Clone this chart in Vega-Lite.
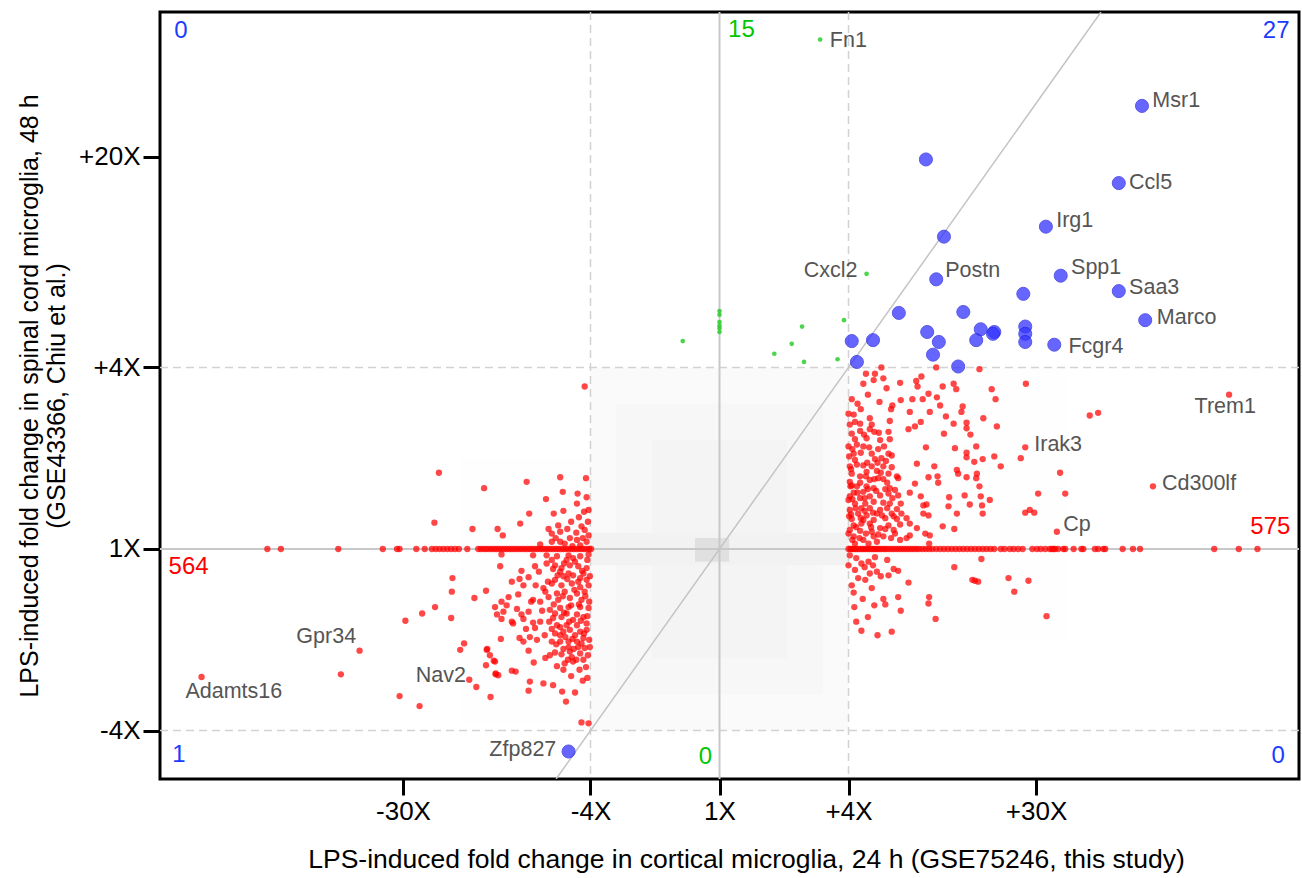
{
"$schema":"https://vega.github.io/schema/vega-lite/v6.json",
"width":1139,"height":767,
"autosize":{"type":"none"},
"padding":{"left":160,"top":12,"right":3,"bottom":99},
"background":"white",
"config":{"view":{"stroke":"black","strokeWidth":3},"font":"Liberation Sans",
"axis":{"grid":false,"domain":false,"tickColor":"black","tickWidth":3,"labelColor":"black","labelFont":"Liberation Sans","labelFontSize":26,"titleFont":"Liberation Sans","titleFontWeight":"normal","titleColor":"black","labelOverlap":false},
"axisX":{"tickSize":16,"labelPadding":3,"titlePadding":22,"titleFontSize":26.5},
"axisY":{"tickSize":17,"labelPadding":3,"titlePadding":9,"titleFontSize":25,"titleLineHeight":27}},
"datasets":{
"bg":[{"x":-4.0,"x2":-2,"y":-1.9,"y2":1.0,"d":0.2},{"x":2,"x2":5.4,"y":-1.0,"y2":2.0,"d":0.2},{"x":-2,"x2":2,"y":-2,"y2":2,"d":0.8},{"x":-1.6,"x2":1.6,"y":-1.6,"y2":1.6,"d":1.3},{"x":-1.05,"x2":1.05,"y":-1.2,"y2":1.2,"d":1.8},{"x":-2,"x2":2,"y":-0.18,"y2":0.18,"d":2.1},{"x":-0.38,"x2":0.15,"y":-0.14,"y2":0.12,"d":5}],
"dashes":[{"v":-2},{"v":2}],
"zeros":[{"v":0}],
"diag":[{"x":-2.533,"y":-2.533,"x2":5.914,"y2":5.914}],
"red":[
{"x":2.51,"y":2.00},{"x":2.80,"y":1.83},{"x":2.23,"y":1.82},{"x":2.39,"y":1.86},{"x":2.27,"y":1.93},{"x":2.41,"y":1.93},{"x":2.54,"y":1.88},{"x":2.59,"y":1.77},{"x":3.05,"y":1.85},{"x":3.13,"y":1.90},{"x":3.07,"y":1.79},{"x":3.36,"y":2.00},{"x":3.46,"y":1.79},{"x":3.63,"y":1.82},{"x":3.67,"y":1.76},{"x":4.03,"y":1.98},{"x":4.75,"y":1.82},{"x":4.22,"y":1.76},{"x":4.28,"y":1.65},{"x":2.81,"y":1.64},{"x":2.99,"y":1.65},{"x":3.15,"y":1.65},{"x":3.24,"y":1.71},{"x":3.37,"y":1.67},{"x":2.68,"y":1.58},{"x":2.66,"y":1.54},{"x":2.19,"y":1.54},{"x":2.95,"y":1.51},{"x":3.26,"y":1.51},{"x":3.42,"y":1.58},{"x":3.77,"y":1.57},{"x":3.75,"y":1.51},{"x":3.51,"y":1.46},{"x":4.09,"y":1.44},{"x":2.08,"y":1.48},{"x":2.33,"y":1.44},{"x":2.10,"y":1.40},{"x":2.18,"y":1.38},{"x":2.36,"y":1.37},{"x":2.64,"y":1.41},{"x":3.12,"y":1.40},{"x":3.03,"y":1.35},{"x":2.93,"y":1.32},{"x":3.63,"y":1.38},{"x":3.83,"y":1.39},{"x":4.30,"y":1.35},{"x":3.83,"y":1.33},{"x":2.05,"y":1.27},{"x":2.24,"y":1.26},{"x":2.40,"y":1.29},{"x":2.62,"y":1.29},{"x":2.28,"y":1.22},{"x":2.49,"y":1.20},{"x":2.64,"y":1.21},{"x":3.89,"y":1.26},{"x":3.48,"y":1.27},{"x":2.13,"y":1.15},{"x":2.23,"y":1.13},{"x":3.20,"y":1.12},{"x":3.65,"y":1.11},{"x":3.98,"y":1.13},{"x":3.83,"y":1.06},{"x":3.83,"y":1.01},{"x":4.74,"y":1.12},{"x":4.26,"y":1.02},{"x":4.67,"y":1.00},{"x":2.08,"y":1.05},{"x":2.36,"y":1.05},{"x":2.62,"y":1.05},{"x":2.67,"y":1.03},{"x":2.51,"y":1.00},{"x":2.10,"y":0.98},{"x":2.41,"y":0.99},{"x":2.02,"y":0.91},{"x":2.23,"y":0.92},{"x":2.36,"y":0.91},{"x":2.54,"y":0.91},{"x":2.67,"y":0.90},{"x":3.06,"y":0.94},{"x":3.33,"y":0.91},{"x":3.95,"y":0.96},{"x":4.08,"y":0.99},{"x":4.36,"y":0.91},{"x":2.05,"y":0.83},{"x":2.28,"y":0.85},{"x":2.44,"y":0.86},{"x":2.62,"y":0.83},{"x":2.75,"y":0.80},{"x":2.18,"y":0.80},{"x":2.46,"y":0.78},{"x":3.24,"y":0.79},{"x":3.38,"y":0.80},{"x":3.68,"y":0.87},{"x":3.70,"y":0.83},{"x":3.83,"y":0.79},{"x":3.99,"y":0.83},{"x":3.98,"y":0.78},{"x":5.28,"y":0.84},{"x":2.02,"y":0.74},{"x":2.33,"y":0.76},{"x":2.54,"y":0.77},{"x":2.77,"y":0.78},{"x":3.03,"y":0.72},{"x":3.39,"y":0.73},{"x":4.03,"y":0.69},{"x":2.13,"y":0.69},{"x":2.28,"y":0.69},{"x":2.39,"y":0.67},{"x":2.72,"y":0.65},{"x":2.64,"y":0.67},{"x":2.95,"y":0.62},{"x":2.08,"y":0.62},{"x":2.23,"y":0.63},{"x":2.02,"y":0.58},{"x":2.18,"y":0.56},{"x":2.33,"y":0.58},{"x":2.49,"y":0.59},{"x":2.62,"y":0.61},{"x":2.77,"y":0.59},{"x":3.12,"y":0.58},{"x":3.56,"y":0.57},{"x":3.80,"y":0.59},{"x":4.05,"y":0.58},{"x":4.19,"y":0.54},{"x":4.94,"y":0.61},{"x":5.36,"y":0.61},{"x":2.10,"y":0.50},{"x":2.26,"y":0.50},{"x":2.39,"y":0.52},{"x":2.54,"y":0.51},{"x":2.64,"y":0.50},{"x":2.81,"y":0.50},{"x":3.16,"y":0.48},{"x":3.21,"y":0.49},{"x":3.88,"y":0.49},{"x":4.07,"y":0.48},{"x":3.55,"y":0.47},{"x":2.02,"y":0.43},{"x":2.20,"y":0.45},{"x":2.33,"y":0.45},{"x":2.49,"y":0.43},{"x":2.75,"y":0.44},{"x":2.15,"y":0.39},{"x":2.28,"y":0.37},{"x":2.44,"y":0.39},{"x":2.67,"y":0.39},{"x":2.82,"y":0.39},{"x":3.16,"y":0.39},{"x":3.24,"y":0.37},{"x":3.68,"y":0.39},{"x":4.08,"y":0.39},{"x":4.74,"y":0.40},{"x":4.81,"y":0.43},{"x":4.88,"y":0.40},{"x":2.05,"y":0.33},{"x":2.23,"y":0.32},{"x":2.39,"y":0.32},{"x":2.57,"y":0.34},{"x":2.75,"y":0.33},{"x":2.90,"y":0.34},{"x":2.08,"y":0.26},{"x":2.20,"y":0.28},{"x":2.33,"y":0.28},{"x":2.62,"y":0.26},{"x":2.80,"y":0.27},{"x":2.95,"y":0.28},{"x":3.46,"y":0.25},{"x":3.64,"y":0.22},{"x":5.23,"y":0.19},{"x":2.02,"y":0.21},{"x":2.18,"y":0.20},{"x":2.36,"y":0.19},{"x":2.49,"y":0.23},{"x":2.70,"y":0.21},{"x":3.06,"y":0.23},{"x":2.39,"y":0.14},{"x":2.54,"y":0.14},{"x":2.72,"y":0.17},{"x":2.95,"y":0.15},{"x":3.19,"y":0.17},{"x":3.26,"y":0.15},{"x":2.08,"y":0.14},{"x":2.23,"y":0.10},{"x":2.44,"y":0.08},{"x":2.80,"y":0.10},{"x":2.90,"y":0.12},{"x":2.10,"y":0.06},{"x":2.31,"y":0.06},{"x":3.25,"y":0.06},
{"x":2.06,"y":0.10},{"x":2.12,"y":0.24},{"x":2.17,"y":0.12},{"x":2.27,"y":0.17},{"x":2.35,"y":0.24},{"x":2.46,"y":0.16},{"x":2.57,"y":0.22},{"x":2.66,"y":0.12},{"x":2.04,"y":0.38},{"x":2.11,"y":0.45},{"x":2.19,"y":0.34},{"x":2.25,"y":0.42},{"x":2.38,"y":0.40},{"x":2.52,"y":0.37},{"x":2.60,"y":0.45},{"x":2.70,"y":0.36},{"x":2.06,"y":0.55},{"x":2.14,"y":0.62},{"x":2.25,"y":0.56},{"x":2.30,"y":0.66},{"x":2.43,"y":0.64},{"x":2.57,"y":0.66},{"x":2.68,"y":0.56},{"x":2.05,"y":0.70},{"x":2.18,"y":0.73},{"x":2.27,"y":0.80},{"x":2.40,"y":0.77},{"x":2.50,"y":0.84},{"x":2.60,"y":0.73},{"x":2.04,"y":0.88},{"x":2.13,"y":0.93},{"x":2.29,"y":0.95},{"x":2.45,"y":0.95},{"x":2.58,"y":0.97},{"x":2.06,"y":1.10},{"x":2.19,"y":1.06},{"x":2.32,"y":1.12},{"x":2.46,"y":1.10},{"x":2.55,"y":1.13},{"x":2.10,"y":1.21},{"x":2.18,"y":1.30},{"x":2.33,"y":1.32},{"x":2.47,"y":1.28},{"x":2.14,"y":1.60},{"x":2.05,"y":1.65},{"x":2.30,"y":1.70},{"x":2.48,"y":1.62},{"x":2.12,"y":-0.10},{"x":2.25,"y":-0.20},{"x":2.38,"y":-0.18},{"x":2.50,"y":-0.30},{"x":2.08,"y":-0.48},{"x":2.22,"y":-0.55},{"x":2.40,"y":-0.62},{"x":2.30,"y":-0.75},{"x":2.12,"y":-0.80},
{"x":2.02,"y":-0.07},{"x":2.20,"y":-0.16},{"x":2.31,"y":-0.14},{"x":2.41,"y":-0.09},{"x":2.60,"y":-0.12},{"x":2.10,"y":-0.23},{"x":2.15,"y":-0.32},{"x":2.33,"y":-0.27},{"x":2.26,"y":-0.34},{"x":2.44,"y":-0.25},{"x":2.70,"y":-0.22},{"x":2.77,"y":-0.24},{"x":2.62,"y":-0.29},{"x":2.05,"y":-0.40},{"x":2.36,"y":-0.43},{"x":2.93,"y":-0.37},{"x":3.64,"y":-0.20},{"x":4.06,"y":-0.11},{"x":3.96,"y":-0.35},{"x":3.92,"y":-0.34},{"x":4.01,"y":-0.36},{"x":4.48,"y":-0.32},{"x":4.79,"y":-0.35},{"x":4.57,"y":-0.47},{"x":2.54,"y":-0.55},{"x":2.57,"y":-0.61},{"x":2.77,"y":-0.53},{"x":2.81,"y":-0.68},{"x":3.25,"y":-0.53},{"x":3.24,"y":-0.60},{"x":2.09,"y":-0.64},{"x":3.35,"y":-0.77},{"x":5.07,"y":-0.74},{"x":2.20,"y":-0.90},{"x":2.45,"y":-0.95},{"x":2.67,"y":-0.91},
{"x":2.00,"y":1.49},{"x":2.02,"y":1.37},{"x":2.00,"y":1.13},{"x":2.01,"y":1.02},{"x":2.03,"y":0.69},{"x":2.00,"y":0.54},{"x":2.01,"y":0.36},{"x":2.00,"y":0.17},{"x":2.00,"y":-0.18},
{"x":7.90,"y":1.70},{"x":5.74,"y":1.47},{"x":5.87,"y":1.50},{"x":6.72,"y":0.69},
{"x":2.00,"y":0},{"x":2.03,"y":0},{"x":2.05,"y":0},{"x":2.07,"y":0},{"x":2.10,"y":0},{"x":2.12,"y":0},{"x":2.15,"y":0},{"x":2.18,"y":0},{"x":2.21,"y":0},{"x":2.24,"y":0},{"x":2.27,"y":0},{"x":2.30,"y":0},{"x":2.33,"y":0},{"x":2.36,"y":0},{"x":2.39,"y":0},{"x":2.42,"y":0},{"x":2.45,"y":0},{"x":2.48,"y":0},{"x":2.51,"y":0},{"x":2.55,"y":0},{"x":2.58,"y":0},{"x":2.62,"y":0},{"x":2.66,"y":0},{"x":2.70,"y":0},{"x":2.74,"y":0},{"x":2.78,"y":0},{"x":2.82,"y":0},{"x":2.86,"y":0},{"x":2.90,"y":0},{"x":2.94,"y":0},{"x":2.98,"y":0},{"x":3.02,"y":0},{"x":3.06,"y":0},{"x":3.10,"y":0},{"x":3.15,"y":0},{"x":3.20,"y":0},{"x":3.25,"y":0},{"x":3.30,"y":0},{"x":3.36,"y":0},{"x":3.42,"y":0},{"x":3.48,"y":0},{"x":3.54,"y":0},{"x":3.60,"y":0},{"x":3.66,"y":0},{"x":3.72,"y":0},{"x":3.78,"y":0},{"x":3.84,"y":0},{"x":3.90,"y":0},{"x":3.96,"y":0},{"x":4.02,"y":0},{"x":4.08,"y":0},{"x":4.14,"y":0},{"x":4.20,"y":0},{"x":4.26,"y":0},{"x":4.36,"y":0},{"x":4.42,"y":0},{"x":4.50,"y":0},{"x":4.56,"y":0},{"x":4.63,"y":0},{"x":4.70,"y":0},{"x":4.85,"y":0},{"x":4.92,"y":0},{"x":4.98,"y":0},{"x":5.05,"y":0},{"x":5.12,"y":0},{"x":5.15,"y":0},{"x":5.18,"y":0},{"x":5.20,"y":0},{"x":5.25,"y":0},{"x":5.33,"y":0},{"x":5.36,"y":0},{"x":5.49,"y":0},{"x":5.61,"y":0},{"x":5.64,"y":0},{"x":5.82,"y":0},{"x":5.87,"y":0},{"x":5.95,"y":0},{"x":5.98,"y":0},{"x":6.25,"y":0},{"x":6.41,"y":0},{"x":6.52,"y":0},{"x":7.67,"y":0},{"x":8.05,"y":0},{"x":8.34,"y":0},
{"x":-3.65,"y":0.67},{"x":-2.99,"y":0.74},{"x":-2.47,"y":0.79},{"x":-2.07,"y":0.78},{"x":-2.43,"y":0.63},{"x":-2.20,"y":0.61},{"x":-2.06,"y":0.57},{"x":-2.69,"y":0.55},{"x":-2.21,"y":0.50},{"x":-2.95,"y":0.39},{"x":-2.57,"y":0.39},{"x":-2.10,"y":0.41},{"x":-2.03,"y":0.43},{"x":-3.09,"y":0.28},{"x":-2.50,"y":0.26},{"x":-3.44,"y":0.22},{"x":-3.36,"y":0.15},{"x":-2.60,"y":0.17},{"x":-2.47,"y":0.19},{"x":-2.14,"y":0.25},{"x":-2.09,"y":0.21},{"x":-2.03,"y":0.15},{"x":-2.32,"y":0.12},{"x":-2.21,"y":0.10},{"x":-2.60,"y":0.08},{"x":-2.47,"y":0.08},{"x":-2.40,"y":0.06},{"x":-2.16,"y":0.04},{"x":-2.06,"y":0.08},{"x":-2.78,"y":0.05},
{"x":-3.38,"y":-0.06},{"x":-2.89,"y":-0.07},{"x":-2.68,"y":-0.07},{"x":-2.52,"y":-0.08},{"x":-2.34,"y":-0.07},{"x":-2.16,"y":-0.08},{"x":-2.03,"y":-0.06},{"x":-3.40,"y":-0.19},{"x":-3.07,"y":-0.24},{"x":-2.86,"y":-0.19},{"x":-2.68,"y":-0.16},{"x":-2.55,"y":-0.18},{"x":-2.45,"y":-0.21},{"x":-2.32,"y":-0.18},{"x":-2.19,"y":-0.19},{"x":-2.06,"y":-0.21},{"x":-3.22,"y":-0.36},{"x":-3.10,"y":-0.33},{"x":-2.96,"y":-0.31},{"x":-3.04,"y":-0.40},{"x":-2.73,"y":-0.43},{"x":-2.55,"y":-0.34},{"x":-2.42,"y":-0.30},{"x":-2.27,"y":-0.29},{"x":-2.16,"y":-0.32},{"x":-2.06,"y":-0.34},{"x":-3.62,"y":-0.46},{"x":-3.27,"y":-0.53},{"x":-3.38,"y":-0.58},{"x":-2.89,"y":-0.56},{"x":-2.78,"y":-0.58},{"x":-2.65,"y":-0.53},{"x":-2.52,"y":-0.49},{"x":-2.40,"y":-0.47},{"x":-2.21,"y":-0.49},{"x":-2.09,"y":-0.47},{"x":-3.48,"y":-0.64},{"x":-3.35,"y":-0.69},{"x":-3.14,"y":-0.66},{"x":-2.96,"y":-0.69},{"x":-3.07,"y":-0.72},{"x":-2.63,"y":-0.67},{"x":-2.47,"y":-0.65},{"x":-2.34,"y":-0.64},{"x":-2.16,"y":-0.64},{"x":-2.03,"y":-0.65},{"x":-3.45,"y":-0.72},{"x":-3.22,"y":-0.80},{"x":-3.20,"y":-0.82},{"x":-2.89,"y":-0.81},{"x":-2.78,"y":-0.80},{"x":-2.58,"y":-0.76},{"x":-2.45,"y":-0.75},{"x":-2.27,"y":-0.78},{"x":-2.11,"y":-0.75},{"x":-3.38,"y":-0.77},{"x":-3.04,"y":-0.77},{"x":-2.86,"y":-0.87},{"x":-2.71,"y":-0.95},{"x":-2.55,"y":-0.93},{"x":-2.42,"y":-0.91},{"x":-2.32,"y":-0.89},{"x":-2.16,"y":-0.91},{"x":-2.06,"y":-0.89},{"x":-3.39,"y":-0.99},{"x":-3.10,"y":-0.98},{"x":-3.04,"y":-1.02},{"x":-2.94,"y":-0.97},{"x":-2.60,"y":-1.02},{"x":-2.47,"y":-1.02},{"x":-2.34,"y":-1.02},{"x":-2.21,"y":-1.02},{"x":-2.11,"y":-0.98},{"x":-2.01,"y":-1.08},{"x":-3.61,"y":-1.11},{"x":-3.56,"y":-1.17},{"x":-3.48,"y":-1.24},{"x":-3.62,"y":-1.28},{"x":-2.96,"y":-1.12},{"x":-2.63,"y":-1.17},{"x":-2.55,"y":-1.14},{"x":-2.45,"y":-1.16},{"x":-2.32,"y":-1.13},{"x":-2.16,"y":-1.15},{"x":-2.52,"y":-1.29},{"x":-2.40,"y":-1.26},{"x":-2.27,"y":-1.24},{"x":-2.42,"y":-1.33},{"x":-3.22,"y":-1.34},{"x":-3.16,"y":-1.35},{"x":-3.47,"y":-1.37},{"x":-3.43,"y":-1.39},{"x":-2.94,"y":-1.46},{"x":-2.73,"y":-1.48},{"x":-2.58,"y":-1.50},{"x":-2.96,"y":-1.56},{"x":-2.44,"y":-1.57},{"x":-2.24,"y":-1.58},{"x":-2.38,"y":-1.68},{"x":-3.55,"y":-1.63},{"x":-2.05,"y":-1.42},{"x":-2.14,"y":-1.91},{"x":-2.03,"y":-1.92},
{"x":-2.60,"y":-0.12},{"x":-2.37,"y":-0.12},{"x":-2.24,"y":-0.14},{"x":-2.47,"y":-0.25},{"x":-2.34,"y":-0.27},{"x":-2.11,"y":-0.27},{"x":-2.60,"y":-0.38},{"x":-2.45,"y":-0.40},{"x":-2.29,"y":-0.38},{"x":-2.16,"y":-0.42},{"x":-2.03,"y":-0.40},{"x":-2.50,"y":-0.56},{"x":-2.32,"y":-0.54},{"x":-2.14,"y":-0.56},{"x":-2.55,"y":-0.71},{"x":-2.37,"y":-0.71},{"x":-2.21,"y":-0.72},{"x":-2.52,"y":-0.84},{"x":-2.37,"y":-0.84},{"x":-2.21,"y":-0.84},{"x":-2.06,"y":-0.82},{"x":-2.47,"y":-0.95},{"x":-2.24,"y":-0.95},{"x":-2.34,"y":-1.08},{"x":-2.19,"y":-1.08},{"x":-2.09,"y":-1.09},{"x":-2.29,"y":-1.19},{"x":-2.11,"y":-1.22},{"x":-3.60,"y":-1.10},{"x":-3.50,"y":-1.23},{"x":-3.47,"y":-1.38},
{"x":-2.05,"y":-0.12},{"x":-2.13,"y":-0.24},{"x":-2.27,"y":-0.10},{"x":-2.41,"y":-0.16},{"x":-2.58,"y":-0.22},{"x":-2.01,"y":-0.30},{"x":-2.19,"y":-0.36},{"x":-2.36,"y":-0.33},{"x":-2.51,"y":-0.29},{"x":-2.66,"y":-0.36},{"x":-2.08,"y":-0.52},{"x":-2.25,"y":-0.45},{"x":-2.43,"y":-0.52},{"x":-2.57,"y":-0.61},{"x":-2.70,"y":-0.47},{"x":-2.02,"y":-0.58},{"x":-2.18,"y":-0.61},{"x":-2.30,"y":-0.62},{"x":-2.41,"y":-0.70},{"x":-2.64,"y":-0.80},{"x":-2.05,"y":-0.74},{"x":-2.15,"y":-0.79},{"x":-2.33,"y":-0.80},{"x":-2.47,"y":-0.86},{"x":-2.60,"y":-0.88},{"x":-2.10,"y":-0.93},{"x":-2.28,"y":-0.99},{"x":-2.39,"y":-0.97},{"x":-2.53,"y":-1.05},{"x":-2.02,"y":-1.00},{"x":-2.14,"y":-1.04},{"x":-2.26,"y":-1.10},{"x":-2.42,"y":-1.10},{"x":-2.04,"y":-1.17},{"x":-2.22,"y":-1.22},{"x":-2.35,"y":-1.22},{"x":-2.07,"y":-1.30},{"x":-2.17,"y":-1.33},{"x":-2.30,"y":-1.40},{"x":-2.12,"y":-1.45},{"x":-2.22,"y":0.18},{"x":-2.36,"y":0.22},{"x":-2.12,"y":0.12},{"x":-2.28,"y":0.03},{"x":-2.54,"y":0.12},{"x":-2.04,"y":0.30},{"x":-2.30,"y":0.30},{"x":-2.18,"y":0.35},{"x":-2.42,"y":0.42},{"x":-2.65,"y":0.22},{"x":-2.85,"y":-0.40},{"x":-2.80,"y":-0.25},{"x":-2.92,"y":-0.58},{"x":-2.75,"y":-0.68},{"x":-2.83,"y":-1.00},{"x":-3.00,"y":-0.88},{"x":-2.70,"y":-1.20},{"x":-2.88,"y":-1.25},{"x":-3.12,"y":-0.50},{"x":-3.30,"y":-0.62},
{"x":-4.35,"y":0.84},{"x":-4.42,"y":0.29},{"x":-3.83,"y":0.22},{"x":-4.14,"y":-0.32},{"x":-4.15,"y":-0.47},{"x":-3.80,"y":-0.54},{"x":-4.41,"y":-0.64},{"x":-4.61,"y":-0.71},{"x":-4.87,"y":-0.79},{"x":-4.16,"y":-0.76},{"x":-5.58,"y":-1.12},{"x":-5.87,"y":-1.38},{"x":-8.03,"y":-1.41},{"x":-4.02,"y":-1.11},{"x":-3.96,"y":-1.04},{"x":-3.88,"y":-1.44},{"x":-3.77,"y":-1.52},{"x":-4.96,"y":-1.62},{"x":-4.65,"y":-1.73},{"x":-2.09,"y":1.79},
{"x":-7.01,"y":0},{"x":-6.80,"y":0},{"x":-5.91,"y":0},{"x":-5.22,"y":0},{"x":-5.00,"y":0},{"x":-4.96,"y":0},{"x":-4.70,"y":0},{"x":-4.57,"y":0},{"x":-4.46,"y":0},{"x":-4.40,"y":0},{"x":-4.34,"y":0},{"x":-4.28,"y":0},{"x":-4.22,"y":0},{"x":-4.16,"y":0},{"x":-4.10,"y":0},{"x":-4.04,"y":0},{"x":-3.91,"y":0},{"x":-3.74,"y":0},{"x":-3.70,"y":0},{"x":-3.66,"y":0},{"x":-3.62,"y":0},{"x":-3.58,"y":0},{"x":-3.54,"y":0},{"x":-3.50,"y":0},{"x":-3.46,"y":0},{"x":-3.42,"y":0},{"x":-3.38,"y":0},{"x":-3.34,"y":0},{"x":-3.30,"y":0},{"x":-3.26,"y":0},{"x":-3.22,"y":0},{"x":-3.18,"y":0},{"x":-3.14,"y":0},{"x":-3.10,"y":0},{"x":-3.06,"y":0},{"x":-3.02,"y":0},{"x":-2.98,"y":0},{"x":-2.94,"y":0},{"x":-2.90,"y":0},{"x":-2.86,"y":0},{"x":-2.82,"y":0},{"x":-2.78,"y":0},{"x":-2.74,"y":0},{"x":-2.70,"y":0},{"x":-2.66,"y":0},{"x":-2.62,"y":0},{"x":-2.58,"y":0},{"x":-2.54,"y":0},{"x":-2.50,"y":0},{"x":-2.46,"y":0},{"x":-2.42,"y":0},{"x":-2.38,"y":0},{"x":-2.34,"y":0},{"x":-2.30,"y":0},{"x":-2.26,"y":0},{"x":-2.22,"y":0},{"x":-2.18,"y":0},{"x":-2.14,"y":0},{"x":-2.10,"y":0},{"x":-2.06,"y":0},{"x":-2.02,"y":0},{"x":-1.99,"y":0}
],
"green":[{"x":1.56,"y":5.61},{"x":2.28,"y":3.03},{"x":1.93,"y":2.52},{"x":1.28,"y":2.45},{"x":1.12,"y":2.26},{"x":0.85,"y":2.15},{"x":1.31,"y":2.06},{"x":1.83,"y":2.09},{"x":-0.57,"y":2.29},{"x":0,"y":2.62},{"x":0,"y":2.58},{"x":0,"y":2.50},{"x":0,"y":2.46},{"x":0,"y":2.43},{"x":0,"y":2.39}],
"blue":[{"x":3.20,"y":4.29},{"x":3.48,"y":3.44},{"x":3.36,"y":2.97},{"x":2.78,"y":2.60},{"x":3.78,"y":2.61},{"x":3.22,"y":2.39},{"x":3.40,"y":2.28},{"x":2.05,"y":2.29},{"x":2.38,"y":2.30},{"x":3.31,"y":2.14},{"x":2.13,"y":2.06},{"x":3.70,"y":2.01},{"x":6.55,"y":4.88},{"x":6.19,"y":4.03},{"x":5.06,"y":3.55},{"x":5.29,"y":3.01},{"x":6.19,"y":2.84},{"x":6.60,"y":2.52},{"x":4.71,"y":2.81},{"x":4.05,"y":2.42},{"x":3.98,"y":2.30},{"x":4.26,"y":2.39},{"x":4.24,"y":2.37},{"x":4.74,"y":2.45},{"x":4.74,"y":2.37},{"x":4.74,"y":2.28},{"x":5.19,"y":2.25},{"x":-2.34,"y":-2.23}],
"labelsL":[{"x":1.71,"y":5.60,"t":"Fn1"},{"x":6.71,"y":4.93,"t":"Msr1"},{"x":6.35,"y":4.03,"t":"Ccl5"},{"x":5.22,"y":3.61,"t":"Irg1"},{"x":5.45,"y":3.10,"t":"Spp1"},{"x":6.35,"y":2.87,"t":"Saa3"},{"x":6.78,"y":2.54,"t":"Marco"},{"x":5.41,"y":2.23,"t":"Fcgr4"},{"x":3.50,"y":3.06,"t":"Postn"},{"x":4.88,"y":1.15,"t":"Irak3"},{"x":6.86,"y":0.72,"t":"Cd300lf"},{"x":5.33,"y":0.26,"t":"Cp"},{"x":-6.56,"y":-0.97,"t":"Gpr34"},{"x":-4.71,"y":-1.40,"t":"Nav2"},{"x":-8.28,"y":-1.57,"t":"Adamts16"}],
"labelsR":[{"x":2.14,"y":3.06,"t":"Cxcl2"},{"x":-2.53,"y":-2.21,"t":"Zfp827"}],
"labelsC":[{"x":7.84,"y":1.56,"t":"Trem1"}],
"counts":[{"x":-8.35,"y":5.71,"t":"0","c":"b"},{"x":0.34,"y":5.72,"t":"15","c":"g"},{"x":8.63,"y":5.71,"t":"27","c":"b"},{"x":-8.23,"y":-0.20,"t":"564","c":"r"},{"x":8.54,"y":0.24,"t":"575","c":"r"},{"x":-8.38,"y":-2.27,"t":"1","c":"b"},{"x":-0.22,"y":-2.29,"t":"0","c":"g"},{"x":8.66,"y":-2.28,"t":"0","c":"b"}]
},
"layer":[
{"data":{"name":"bg"},"mark":{"type":"rect"},
 "encoding":{
  "x":{"field":"x","type":"quantitative","scale":{"domain":[-8.674,8.984],"nice":false,"zero":false},
   "axis":{"values":[-4.907,-2,0,2,4.907],"labelExpr":"datum.value < -4 ? '-30X' : datum.value < -1 ? '-4X' : datum.value < 1 ? '1X' : datum.value < 4 ? '+4X' : '+30X'","title":"LPS-induced fold change in cortical microglia, 24 h (GSE75246, this study)","titleX":586}},
  "x2":{"field":"x2"},
  "y":{"field":"y","type":"quantitative","scale":{"domain":[-2.533,5.914],"nice":false,"zero":false},
   "axis":{"values":[-2,0,2,4.3219],"labelExpr":"datum.value < -1 ? '-4X' : datum.value < 1 ? '1X' : datum.value < 3 ? '+4X' : '+20X'","title":["LPS-induced fold change in spinal cord microglia, 48 h","(GSE43366, Chiu et al.)"]}},
  "y2":{"field":"y2"},
  "color":{"field":"d","type":"quantitative","scale":{"domain":[0,5],"range":["#ffffff","#e0e0e0"]},"legend":null}
 }},
{"data":{"name":"dashes"},"mark":{"type":"rule","color":"#d2d2d2","strokeWidth":1.5,"strokeDash":[8,5]},
 "encoding":{"x":{"field":"v","type":"quantitative"}}},
{"data":{"name":"dashes"},"mark":{"type":"rule","color":"#d2d2d2","strokeWidth":1.5,"strokeDash":[8,5]},
 "encoding":{"y":{"field":"v","type":"quantitative"}}},
{"data":{"name":"zeros"},"mark":{"type":"rule","color":"#c8c8c8","strokeWidth":2},
 "encoding":{"x":{"field":"v","type":"quantitative"}}},
{"data":{"name":"zeros"},"mark":{"type":"rule","color":"#c8c8c8","strokeWidth":2},
 "encoding":{"y":{"field":"v","type":"quantitative"}}},
{"data":{"name":"diag"},"mark":{"type":"rule","color":"#c4c4c4","strokeWidth":1.5,"clip":true},
 "encoding":{"x":{"field":"x","type":"quantitative"},"y":{"field":"y","type":"quantitative"},"x2":{"field":"x2"},"y2":{"field":"y2"}}},
{"data":{"name":"red"},"mark":{"type":"circle","size":40,"color":"#ff0000","opacity":0.72},
 "encoding":{"x":{"field":"x","type":"quantitative"},"y":{"field":"y","type":"quantitative"}}},
{"data":{"name":"green"},"mark":{"type":"circle","size":22,"color":"#2ecc2e","opacity":0.85},
 "encoding":{"x":{"field":"x","type":"quantitative"},"y":{"field":"y","type":"quantitative"}}},
{"data":{"name":"blue"},"mark":{"type":"circle","size":170,"color":"#3434ff","opacity":0.75,"stroke":"#2020e0","strokeWidth":1},
 "encoding":{"x":{"field":"x","type":"quantitative"},"y":{"field":"y","type":"quantitative"}}},
{"data":{"name":"labelsL"},"mark":{"type":"text","align":"left","baseline":"middle","fontSize":21.5,"color":"#555555","font":"Liberation Sans"},
 "encoding":{"x":{"field":"x","type":"quantitative"},"y":{"field":"y","type":"quantitative"},"text":{"field":"t"}}},
{"data":{"name":"labelsR"},"mark":{"type":"text","align":"right","baseline":"middle","fontSize":21.5,"color":"#555555","font":"Liberation Sans"},
 "encoding":{"x":{"field":"x","type":"quantitative"},"y":{"field":"y","type":"quantitative"},"text":{"field":"t"}}},
{"data":{"name":"labelsC"},"mark":{"type":"text","align":"center","baseline":"middle","fontSize":21.5,"color":"#555555","font":"Liberation Sans"},
 "encoding":{"x":{"field":"x","type":"quantitative"},"y":{"field":"y","type":"quantitative"},"text":{"field":"t"}}},
{"data":{"name":"counts"},"mark":{"type":"text","align":"center","baseline":"middle","fontSize":24,"font":"Liberation Sans"},
 "encoding":{"x":{"field":"x","type":"quantitative"},"y":{"field":"y","type":"quantitative"},"text":{"field":"t"},
  "color":{"field":"c","type":"nominal","scale":{"domain":["b","g","r"],"range":["#1a3cff","#00c800","#ff0000"]},"legend":null}}}
]
}
